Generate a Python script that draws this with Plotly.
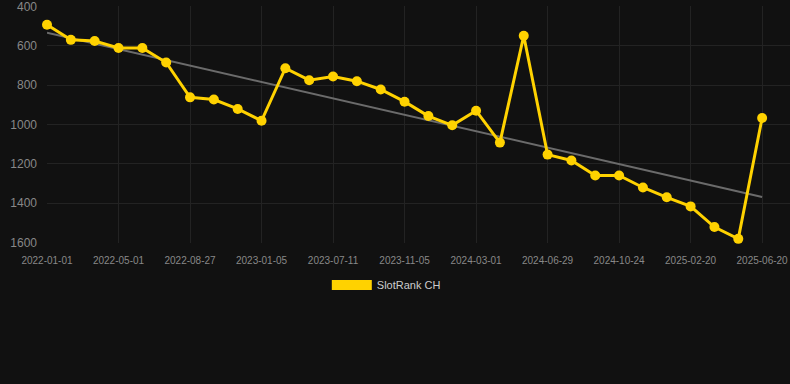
import numpy as np
import plotly.graph_objects as go

dates = ["2022-01-01", "2022-02-10", "2022-03-22", "2022-05-01", "2022-06-09", "2022-07-18",
         "2022-08-27", "2022-10-10", "2022-11-23", "2023-01-05", "2023-03-08", "2023-05-09",
         "2023-07-11", "2023-08-19", "2023-09-27", "2023-11-05", "2023-12-14", "2024-01-22",
         "2024-03-01", "2024-04-09", "2024-05-19", "2024-06-29", "2024-08-07", "2024-09-15",
         "2024-10-24", "2024-12-02", "2025-01-11", "2025-02-20", "2025-04-01", "2025-05-11",
         "2025-06-20"]
ranks = [493, 570, 576, 611, 611, 685, 862, 873, 921, 981, 714, 775, 756, 780, 822, 884,
         957, 1004, 930, 1092, 549, 1153, 1183, 1259, 1259, 1320, 1370, 1416, 1521, 1581, 967]
tick_labels = ["2022-01-01", "2022-05-01", "2022-08-27", "2023-01-05", "2023-07-11", "2023-11-05",
               "2024-03-01", "2024-06-29", "2024-10-24", "2025-02-20", "2025-06-20"]
y_ticks = [400, 600, 800, 1000, 1200, 1400, 1600]
series_name = "SlotRank CH"

idx = np.arange(len(ranks))
coef = np.polyfit(idx, ranks, 1)
trend = np.polyval(coef, idx)

gold = "#FFD200"
fig = go.Figure()
fig.add_trace(go.Scatter(x=dates, y=trend, mode="lines", cliponaxis=False,
                         line=dict(color="#6b6b6b", width=2), showlegend=False, hoverinfo="skip"))
fig.add_trace(go.Scatter(x=dates, y=ranks, mode="lines+markers", name=series_name, cliponaxis=False,
                         line=dict(color=gold, width=3), marker=dict(color=gold, size=10),
                         showlegend=False))
fig.add_trace(go.Scatter(x=[None], y=[None], mode="lines", name=series_name,
                         line=dict(color=gold, width=12), showlegend=True))

font = "Arial, Liberation Sans, sans-serif"
fig.update_layout(
    width=790, height=384,
    paper_bgcolor="#111111", plot_bgcolor="#111111",
    margin=dict(l=47, r=0, t=6, b=141),
    font=dict(family=font, color="#888888"),
    xaxis=dict(type="category", range=[0, 31.17], tickvals=tick_labels, ticktext=tick_labels,
               showgrid=True, gridcolor="#232323", gridwidth=1, zeroline=False,
               showline=False, ticks="", tickfont=dict(size=10, color="#888888"),
               ticklabelstandoff=10),
    yaxis=dict(range=[1602, 398], tickvals=y_ticks, showgrid=True, gridcolor="#232323",
               zeroline=False, showline=False, ticks="", ticklabeloverflow="allow",
               tickfont=dict(size=12, color="#888888"), ticklabelstandoff=9),
    legend=dict(orientation="h", xref="container", yref="container", x=0.489, xanchor="center",
                y=0.258, yanchor="middle", itemwidth=40,
                font=dict(size=11, color="#cccccc", family=font)),
)
fig.write_html("out.html", config={"displayModeBar": False},
               post_script="document.body.style.margin='0';document.body.style.background='#111111';")
